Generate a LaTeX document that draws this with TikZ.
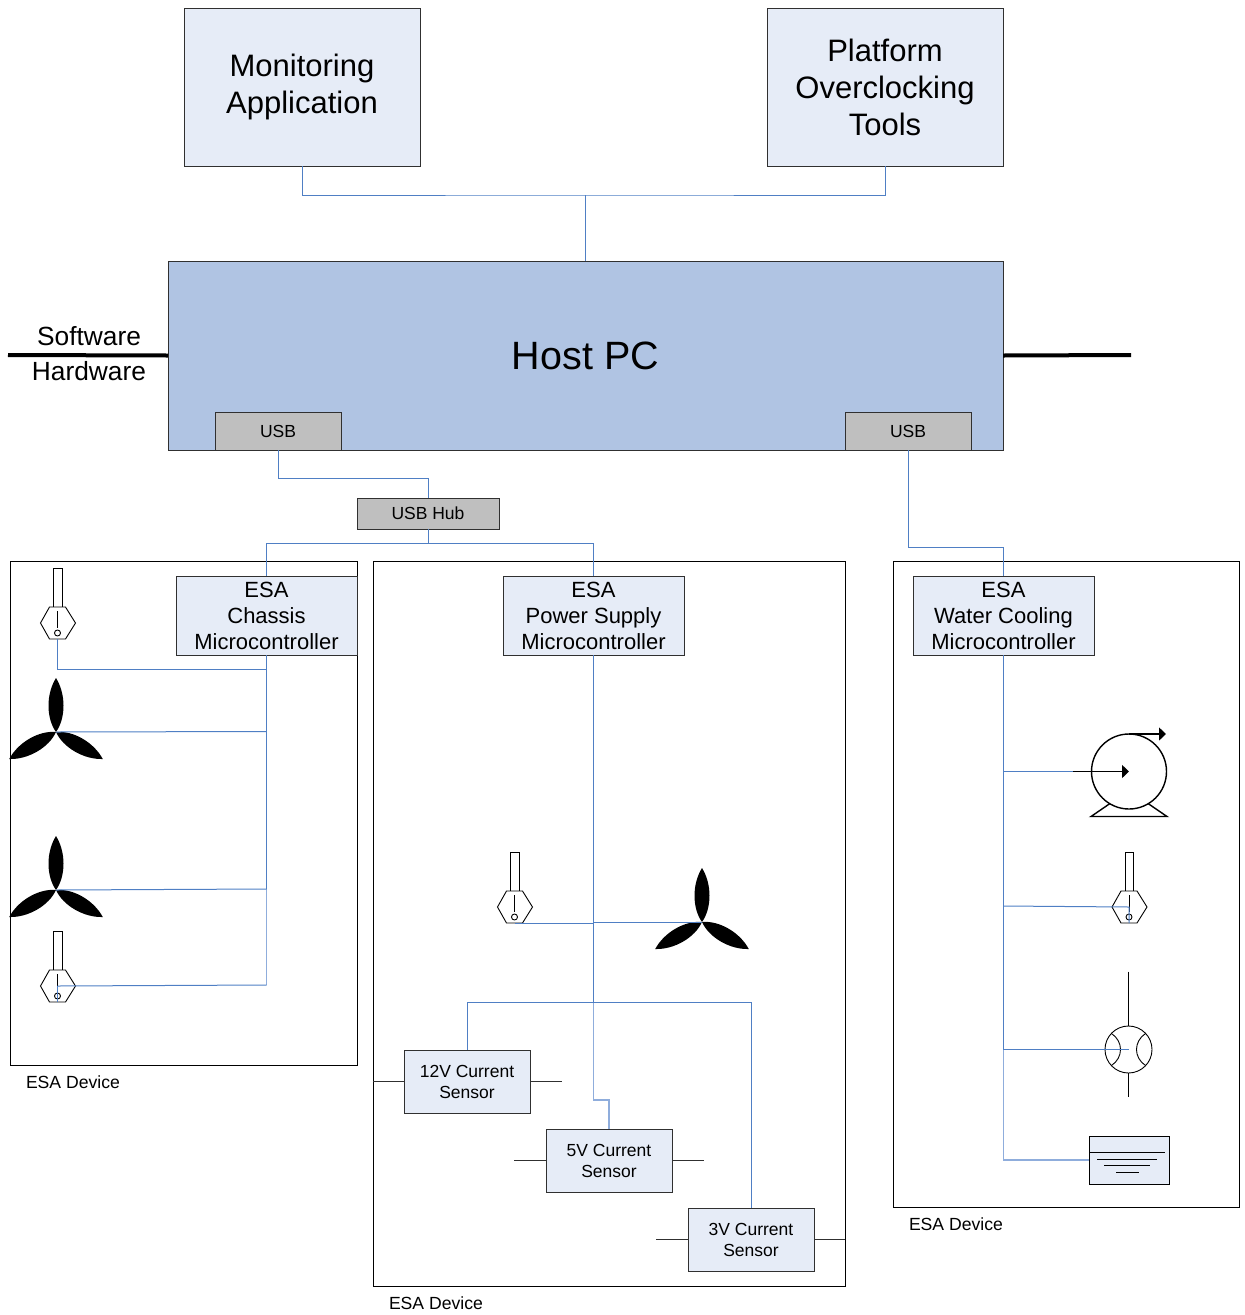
\documentclass[tikz,border=0pt]{standalone}
\usepackage{fontspec}
\setmainfont{Liberation Sans}
\usetikzlibrary{arrows.meta}
\definecolor{lineblue}{HTML}{4F7FC4}
\definecolor{lightblue}{HTML}{8FADDC}
\definecolor{boxfill}{HTML}{E6ECF7}
\definecolor{hostfill}{HTML}{B0C4E3}
\definecolor{usbfill}{HTML}{BFBFBF}
\definecolor{edge}{HTML}{303030}
\newcommand{\fs}[2]{\fontsize{#1}{#2}\selectfont}
\tikzset{
  x=1pt,y=-1pt,
  boxbase/.style={draw=edge,line width=0.9pt,inner sep=0pt,outer sep=0pt,align=center,text=black},
  appbox/.style={boxbase,fill=boxfill,minimum width=236,minimum height=158,font=\fs{31}{37}},
  hostbox/.style={boxbase,fill=hostfill,minimum width=835,minimum height=189,font=\fs{39.5}{46}},
  usbbox/.style={boxbase,fill=usbfill,minimum width=126,minimum height=38,font=\fs{17.5}{21}},
  hubbox/.style={boxbase,fill=usbfill,minimum width=142,minimum height=31,font=\fs{17.5}{21}},
  devbox/.style={draw=black,line width=0.9pt,inner sep=0pt,outer sep=0pt},
  mcubox/.style={boxbase,fill=boxfill,minimum width=181,minimum height=79,font=\fs{22}{26}},
  curbox/.style={boxbase,fill=boxfill,minimum width=126,minimum height=63,font=\fs{17.5}{21}},
  tag/.style={inner sep=0pt,outer sep=0pt,anchor=west,font=\fs{17.6}{21}},
  sidetext/.style={inner sep=0pt,outer sep=0pt,font=\fs{26.3}{30}},
  wire/.style={draw=lineblue,line width=1pt},
  softwire/.style={draw=lightblue,line width=1.3pt},
  trunk/.style={draw=lineblue,line width=1.8pt},
  stub/.style={draw=edge,line width=0.9pt},
  divider/.style={draw=black,line width=4pt},
  sym/.style={draw=black,line width=0.9pt},
  symthick/.style={draw=black,line width=1.4pt},
  sensorpic/.pic={
    \draw[sym,fill=white] (-4,0) rectangle (4.5,39);
    \draw[sym,fill=white] (-17,55) -- (-8,39) -- (8,39) -- (18,55) -- (8,71) -- (-8,71) -- cycle;
    \draw[sym] (0,43) -- (0,60);
    \draw[sym,fill=white] (0,65) circle (3);
    \coordinate (-mid) at (0,55);
    \coordinate (-eye) at (0,71);
  },
  fanpic/.pic={
    \foreach \r in {0,120,240}
      \fill[black,rotate=\r] (0,0) .. controls (-10,-14) and (-10,-38) .. (0,-54)
        .. controls (10,-38) and (10,-14) .. (0,0) -- cycle;
    \coordinate (-hub) at (0,0);
  },
  pumppic/.pic={
    \draw[symthick] (-19,32) -- (-38,45) -- (38,45) -- (19,32);
    \draw[symthick,fill=white] (0,0) circle (37.5);
    \draw[symthick,-{Triangle[length=7pt,width=13pt]}] (-56,0) -- (0,0);
    \draw[symthick,-{Triangle[length=7pt,width=13pt]}] (0,-37.5) -- (37,-37.5);
    \coordinate (-in) at (-56,0);
  },
  exchpic/.pic={
    \draw[sym] (0,-78) -- (0,-23.5);
    \draw[sym] (0,23.5) -- (0,47);
    \draw[sym] (0,0) circle (23.5);
    \draw[sym] (-17,-16) .. controls (-5,-8) and (-5,8) .. (-17,16);
    \draw[sym] (17,-16) .. controls (5,-8) and (5,8) .. (17,16);
    \coordinate (-mid) at (0,0);
  },
  tankpic/.pic={
    \draw[sym,fill=boxfill] (0,0) rectangle (80,48);
    \draw[sym] (0,16) -- (76,16);
    \draw[sym] (8,23) -- (68,23);
    \draw[sym] (15,29) -- (61,29);
    \draw[sym] (27,36) -- (50,36);
    \coordinate (-port) at (0,24);
  },
}
\begin{document}
\begin{tikzpicture}
\useasboundingbox (0,0) rectangle (1245,1315);

% devices
\node[devbox,minimum width=347,minimum height=504] (dev1) at (183.5,813) {};
\node[devbox,minimum width=472,minimum height=725] (dev2) at (609,923.5) {};
\node[devbox,minimum width=346,minimum height=646] (dev3) at (1066,884) {};

% symbols
\pic (s1) at (57.5,568) {sensorpic};
\pic (s2) at (57.5,931) {sensorpic};
\pic (s3) at (514.5,852) {sensorpic};
\pic (s4) at (1129,852) {sensorpic};
\pic (f1) at (56,732) {fanpic};
\pic (f2) at (56,890) {fanpic};
\pic (f3) at (702,922) {fanpic};
\pic (pump) at (1129,771.5) {pumppic};
\pic (hx) at (1128.5,1049.5) {exchpic};
\pic (tank) at (1089,1136) {tankpic};

% boxes
\node[appbox] (mon) at (302,87) {Monitoring\\Application};
\node[appbox] (plat) at (885,87) {Platform\\Overclocking\\Tools};
\node[hostbox] (host) at (585.5,355.5) {Host PC};
\node[usbbox] (usb1) at (278,431) {USB};
\node[usbbox] (usb2) at (908,431) {USB};
\node[hubbox] (hub) at (428,513.5) {USB Hub};
\node[mcubox] (mcu1) at (266.5,615.5) {ESA\\Chassis\\Microcontroller};
\node[mcubox] (mcu2) at (593.5,615.5) {ESA\\Power Supply\\Microcontroller};
\node[mcubox] (mcu3) at (1003.5,615.5) {ESA\\Water Cooling\\Microcontroller};
\node[curbox] (c12) at (467,1081.5) {12V Current\\Sensor};
\node[curbox] (c5) at (609,1160.5) {5V Current\\Sensor};
\node[curbox] (c3) at (751,1239.5) {3V Current\\Sensor};

% labels
\node[sidetext] (sw) at (89,336) {Software};
\node[sidetext] (hw) at (89,371) {Hardware};
\node[tag] (t1) at (26,1082) {ESA Device};
\node[tag] (t2) at (389,1303) {ESA Device};
\node[tag] (t3) at (909,1224) {ESA Device};

% dividers
\coordinate (dl) at (8,355);
\coordinate (dr) at (1131,355);
\draw[divider] (dl) -- (host.west);
\draw[divider] (host.east) -- (dr);

% upper connectors
\coordinate (jtop) at (585.5,195);
\coordinate (jusb) at (428,478);
\coordinate (jhub) at (428,543.5);
\coordinate (jw) at (1003.5,547);
\draw[wire] (mon.south) |- (jtop) -| (plat.south);
\draw[wire] (jtop) -- (host.north);
\draw[wire] (usb1.south) |- (jusb) -- (hub.north);
\draw[wire] (hub.south) -- (jhub);
\draw[wire] (mcu1.north) |- (jhub) -| (mcu2.north);
\draw[wire] (usb2.south) |- (jw) -- (mcu3.north);

% chassis
\coordinate (ca) at (266.5,669);
\coordinate (cb) at (266.5,731.5);
\coordinate (cc) at (266.5,889);
\coordinate (cd) at (266.5,985);
\draw[softwire] (cc) -- (cd);
\draw[trunk] (mcu1.south) -- (cc);
\draw[wire] (s1-eye) |- (ca);
\draw[wire] (f1-hub) -- (cb);
\draw[wire] (f2-hub) -- (cc);
\draw[wire] (s2-mid) -- (cd);
\draw[wire] (s2-mid) -- (s2-eye);

% power supply
\coordinate (pa) at (593.5,923);
\coordinate (pb) at (593.5,1002.5);
\coordinate (pc) at (593.5,1100);
\coordinate (pd) at (609,1100);
\draw[trunk] (mcu2.south) -- (pb);
\draw[wire] (s3-eye) -- (pa);
\draw[wire] (pa) |- (f3-hub);
\draw[softwire] (pb) -- (pc) -- (pd) -- (c5.north);
\draw[wire] (c12.north) |- (pb);
\draw[wire] (pb) -| (c3.north);

% current sensor stubs
\coordinate (c12r) at (562,1081.5);
\coordinate (c5l) at (514,1160.5);
\coordinate (c5r) at (704,1160.5);
\coordinate (c3l) at (656,1239.5);
\draw[stub] (dev2.west |- c12.west) -- (c12.west);
\draw[stub] (c12.east) -- (c12r);
\draw[stub] (c5l) -- (c5.west);
\draw[stub] (c5.east) -- (c5r);
\draw[stub] (c3l) -- (c3.west);
\draw[stub] (c3.east) -- (dev2.east |- c3.east);

% water cooling
\coordinate (wa) at (1003.5,771.5);
\coordinate (wb) at (1003.5,906);
\coordinate (wc) at (1003.5,1049.5);
\coordinate (wd) at (1003.5,1160);
\draw[softwire] (wc) -- (wd) -- (tank-port);
\draw[trunk] (mcu3.south) -- (wc);
\draw[wire] (wa) -- (pump-in);
\draw[wire] (wb) -- (s4-mid) -- (s4-eye);
\draw[wire] (wc) -- (hx-mid);
\end{tikzpicture}
\end{document}
